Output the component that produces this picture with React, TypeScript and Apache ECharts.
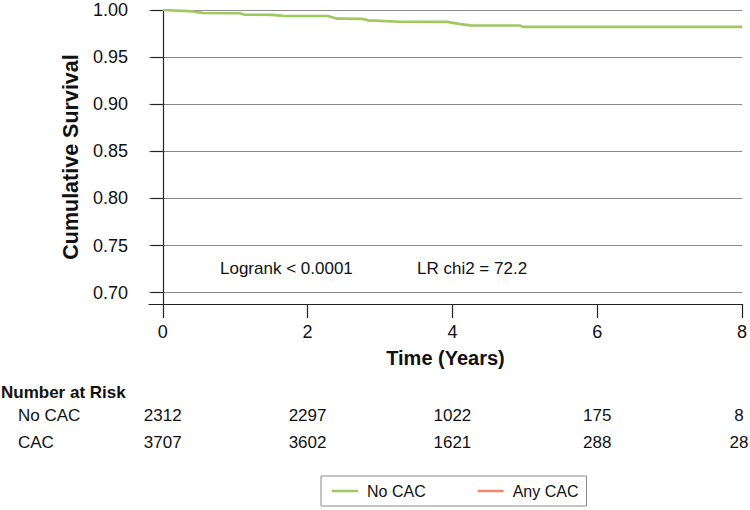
import React, { useEffect, useRef } from "react";
import * as echarts from "echarts";

// Kaplan-Meier curve (time in years, cumulative survival)
const noCacTime = [0, 0.42, 0.5, 0.56, 1.07, 1.13, 1.52, 1.66, 2.28, 2.41, 2.75, 2.84, 3.28, 3.93, 4.11, 4.25, 4.93, 4.97, 8.0];
const noCacSurv = [1.0, 0.9985, 0.9975, 0.9968, 0.9966, 0.995, 0.9948, 0.9938, 0.9936, 0.9908, 0.9906, 0.989, 0.9876, 0.9874, 0.985, 0.9837, 0.9836, 0.9821, 0.9821];
const anyCacTime: number[] = [];
const anyCacSurv: number[] = [];

const seriesNames = ["No CAC", "Any CAC"];
const seriesColors = ["#9dc95f", "#f4856a"];

const yTicks = [0.7, 0.75, 0.8, 0.85, 0.9, 0.95, 1.0];
const xTicks = [0, 2, 4, 6, 8];

const riskTimes = [0, 2, 4, 6, 8];
const riskRowLabels = ["No CAC", "CAC"];
const noCacRisk = [2312, 2297, 1022, 175, 8];
const cacRisk = [3707, 3602, 1621, 288, 28];

const statText1 = "Logrank < 0.0001";
const statText2 = "LR chi2 = 72.2";

const FONT = "'Liberation Sans', Arial, Helvetica, sans-serif";

export default function App() {
  const ref = useRef<HTMLDivElement>(null);

  useEffect(() => {
    if (!ref.current) return;
    const chart = echarts.init(ref.current, null, { renderer: "svg" });
    const toPairs = (t: number[], s: number[]) => t.map((v, i) => [v, s[i]]);

    chart.setOption({
      animation: false,
      textStyle: { fontFamily: FONT },
      grid: { left: 149, right: 8, top: 10, bottom: 206, containLabel: false },
      xAxis: {
        type: "value",
        min: -0.19,
        max: 8,
        axisLine: { show: true, lineStyle: { color: "#222", width: 1.2 } },
        axisTick: {
          show: true,
          length: 14,
          customValues: xTicks,
          lineStyle: { color: "#222", width: 1.2 },
        },
        axisLabel: {
          customValues: xTicks,
          fontSize: 18,
          color: "#111",
          margin: 19,
          fontFamily: FONT,
        },
        splitLine: { show: false },
        name: "Time (Years)",
        nameLocation: "middle",
        nameGap: 44,
        nameTextStyle: { fontSize: 20, fontWeight: "bold", color: "#111", fontFamily: FONT },
      },
      yAxis: {
        type: "value",
        min: 0.688,
        max: 1.0,
        axisLine: { show: true, lineStyle: { color: "#222", width: 1.2 } },
        axisTick: {
          show: true,
          length: 12,
          customValues: yTicks,
          lineStyle: { color: "#222", width: 1.2 },
        },
        axisLabel: {
          customValues: yTicks,
          formatter: (v: number) => v.toFixed(2),
          fontSize: 18,
          color: "#111",
          margin: 21,
          fontFamily: FONT,
        },
        splitLine: { show: true, lineStyle: { color: "#8a8a8a", width: 1 } },
        name: "Cumulative Survival",
        nameLocation: "middle",
        nameGap: 67,
        nameTextStyle: { fontSize: 21.5, fontWeight: "bold", color: "#111", fontFamily: FONT },
      },
      legend: {
        left: 321,
        top: 476,
        orient: "horizontal",
        padding: [7, 8, 7, 11],
        itemGap: 52,
        itemWidth: 26,
        itemHeight: 2.5,
        icon: "rect",
        borderColor: "#8a8a8a",
        borderWidth: 1,
        data: seriesNames,
        textStyle: { fontSize: 16, color: "#111", fontFamily: FONT, padding: [0, 0, 0, 4] },
      },
      series: [
        {
          name: seriesNames[0],
          type: "line",
          data: toPairs(noCacTime, noCacSurv),
          symbol: "none",
          lineStyle: { color: seriesColors[0], width: 2.6 },
          itemStyle: { color: seriesColors[0] },
        },
        {
          name: seriesNames[1],
          type: "line",
          data: toPairs(anyCacTime, anyCacSurv),
          symbol: "none",
          lineStyle: { color: seriesColors[1], width: 2.6 },
          itemStyle: { color: seriesColors[1] },
        },
      ],
    });

    const graphic: any[] = [
      {
        type: "text",
        left: 220,
        top: 260,
        style: { text: statText1, fontSize: 17, fill: "#111", fontFamily: FONT },
      },
      {
        type: "text",
        left: 417,
        top: 260,
        style: { text: statText2, fontSize: 17, fill: "#111", fontFamily: FONT },
      },
      {
        type: "text",
        x: 1,
        y: 392,
        style: {
          text: "Number at Risk",
          fontSize: 17,
          fontWeight: "bold",
          fill: "#111",
          fontFamily: FONT,
          verticalAlign: "middle",
          align: "left",
        },
      },
    ];
    const rows = [noCacRisk, cacRisk];
    const rowY = [415, 442];
    rows.forEach((vals, r) => {
      graphic.push({
        type: "text",
        x: 18,
        y: rowY[r],
        style: {
          text: riskRowLabels[r],
          fontSize: 17,
          fill: "#111",
          fontFamily: FONT,
          verticalAlign: "middle",
          align: "left",
        },
      });
      vals.forEach((v, i) => {
        const px = chart.convertToPixel({ xAxisIndex: 0 }, riskTimes[i]) as number;
        graphic.push({
          type: "text",
          x: Math.min(px, 739),
          y: rowY[r],
          style: {
            text: String(v),
            fontSize: 17,
            fill: "#111",
            fontFamily: FONT,
            verticalAlign: "middle",
            align: "center",
          },
        });
      });
    });
    chart.setOption({ graphic });

    return () => chart.dispose();
  }, []);

  return (
    <div
      ref={ref}
      style={{ position: "fixed", left: 0, top: 0, width: 750, height: 510, background: "#fff" }}
    />
  );
}
